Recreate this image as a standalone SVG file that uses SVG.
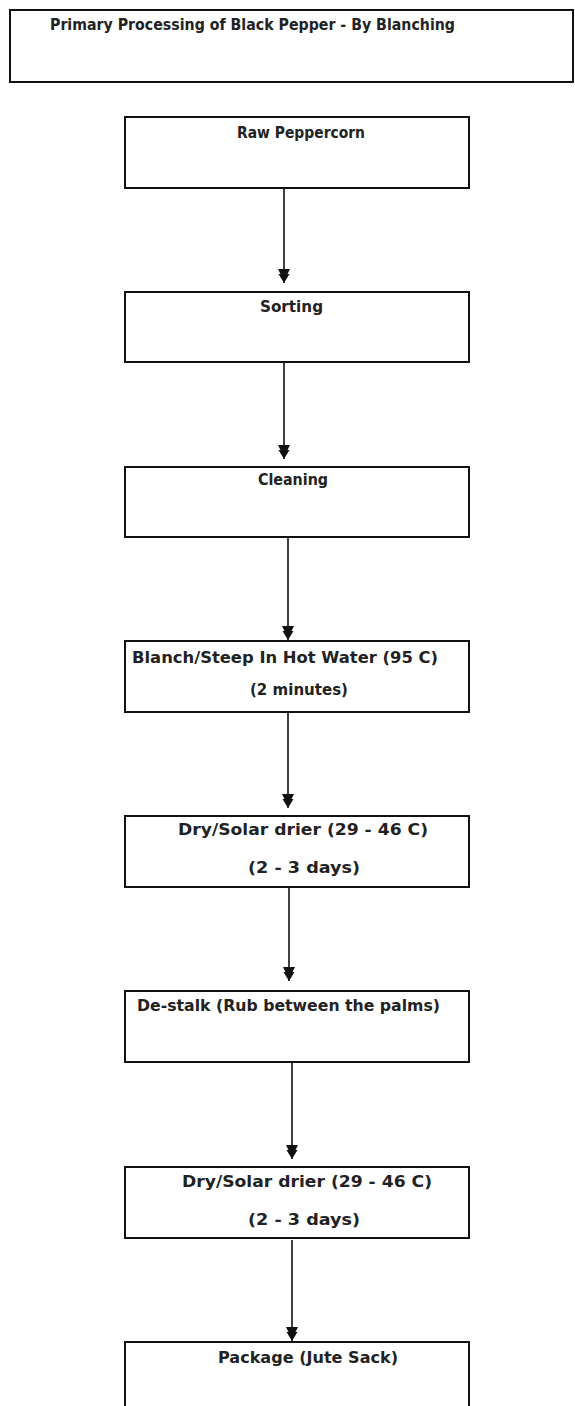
<svg xmlns="http://www.w3.org/2000/svg" width="575" height="1406" viewBox="0 0 575 1406">
<style>
.box{fill:#fff;stroke:#111;stroke-width:2}
.t{font-family:"DejaVu Sans","Liberation Sans",sans-serif;font-weight:bold;font-size:15px;fill:#222}
.c{stroke:#111;stroke-width:1.6;fill:none}
</style>
<defs>
<marker id="ah" markerUnits="userSpaceOnUse" markerWidth="16" markerHeight="14" viewBox="0 0 16 14" refX="15" refY="7" orient="auto">
<path d="M1,1 L6,3.5 L6,1.5 L15,7 L6,12.5 L6,10.5 L1,13 Z" fill="#111"/>
</marker>
</defs>
<rect width="575" height="1406" fill="#fff"/>
<g id="title">
<rect class="box" x="10" y="10" width="563" height="72"/>
<text class="t" x="50" y="30" textLength="405" lengthAdjust="spacingAndGlyphs">Primary Processing of Black Pepper - By Blanching</text>
</g>
<g id="connectors">
<line class="c" x1="284" y1="188" x2="284" y2="283" marker-end="url(#ah)"/>
<line class="c" x1="284" y1="362" x2="284" y2="459" marker-end="url(#ah)"/>
<line class="c" x1="288" y1="537" x2="288" y2="640" marker-end="url(#ah)"/>
<line class="c" x1="288" y1="712" x2="288" y2="808" marker-end="url(#ah)"/>
<line class="c" x1="289" y1="887" x2="289" y2="981" marker-end="url(#ah)"/>
<line class="c" x1="292" y1="1062" x2="292" y2="1159" marker-end="url(#ah)"/>
<line class="c" x1="292" y1="1240" x2="292" y2="1341" marker-end="url(#ah)"/>
</g>
<g id="n1">
<rect class="box" x="125" y="117" width="344" height="71"/>
<text class="t" x="237" y="138" textLength="128" lengthAdjust="spacingAndGlyphs">Raw Peppercorn</text>
</g>
<g id="n2">
<rect class="box" x="125" y="292" width="344" height="70"/>
<text class="t" x="260" y="312" textLength="63" lengthAdjust="spacingAndGlyphs">Sorting</text>
</g>
<g id="n3">
<rect class="box" x="125" y="467" width="344" height="70"/>
<text class="t" x="258" y="485" textLength="70" lengthAdjust="spacingAndGlyphs">Cleaning</text>
</g>
<g id="n4">
<rect class="box" x="125" y="641" width="344" height="71"/>
<text class="t" x="132" y="663" textLength="306" lengthAdjust="spacingAndGlyphs">Blanch/Steep In Hot Water (95 C)</text>
<text class="t" x="250" y="695" textLength="98" lengthAdjust="spacingAndGlyphs">(2 minutes)</text>
</g>
<g id="n5">
<rect class="box" x="125" y="816" width="344" height="71"/>
<text class="t" x="178" y="835" textLength="250" lengthAdjust="spacingAndGlyphs">Dry/Solar drier (29 - 46 C)</text>
<text class="t" x="248" y="873" textLength="112" lengthAdjust="spacingAndGlyphs">(2 - 3 days)</text>
</g>
<g id="n6">
<rect class="box" x="125" y="991" width="344" height="71"/>
<text class="t" x="137" y="1011" textLength="303" lengthAdjust="spacingAndGlyphs">De-stalk (Rub between the palms)</text>
</g>
<g id="n7">
<rect class="box" x="125" y="1167" width="344" height="71"/>
<text class="t" x="182" y="1187" textLength="250" lengthAdjust="spacingAndGlyphs">Dry/Solar drier (29 - 46 C)</text>
<text class="t" x="248" y="1225" textLength="112" lengthAdjust="spacingAndGlyphs">(2 - 3 days)</text>
</g>
<g id="n8">
<rect class="box" x="125" y="1342" width="344" height="70"/>
<text class="t" x="218" y="1363" textLength="180" lengthAdjust="spacingAndGlyphs">Package (Jute Sack)</text>
</g>
</svg>
